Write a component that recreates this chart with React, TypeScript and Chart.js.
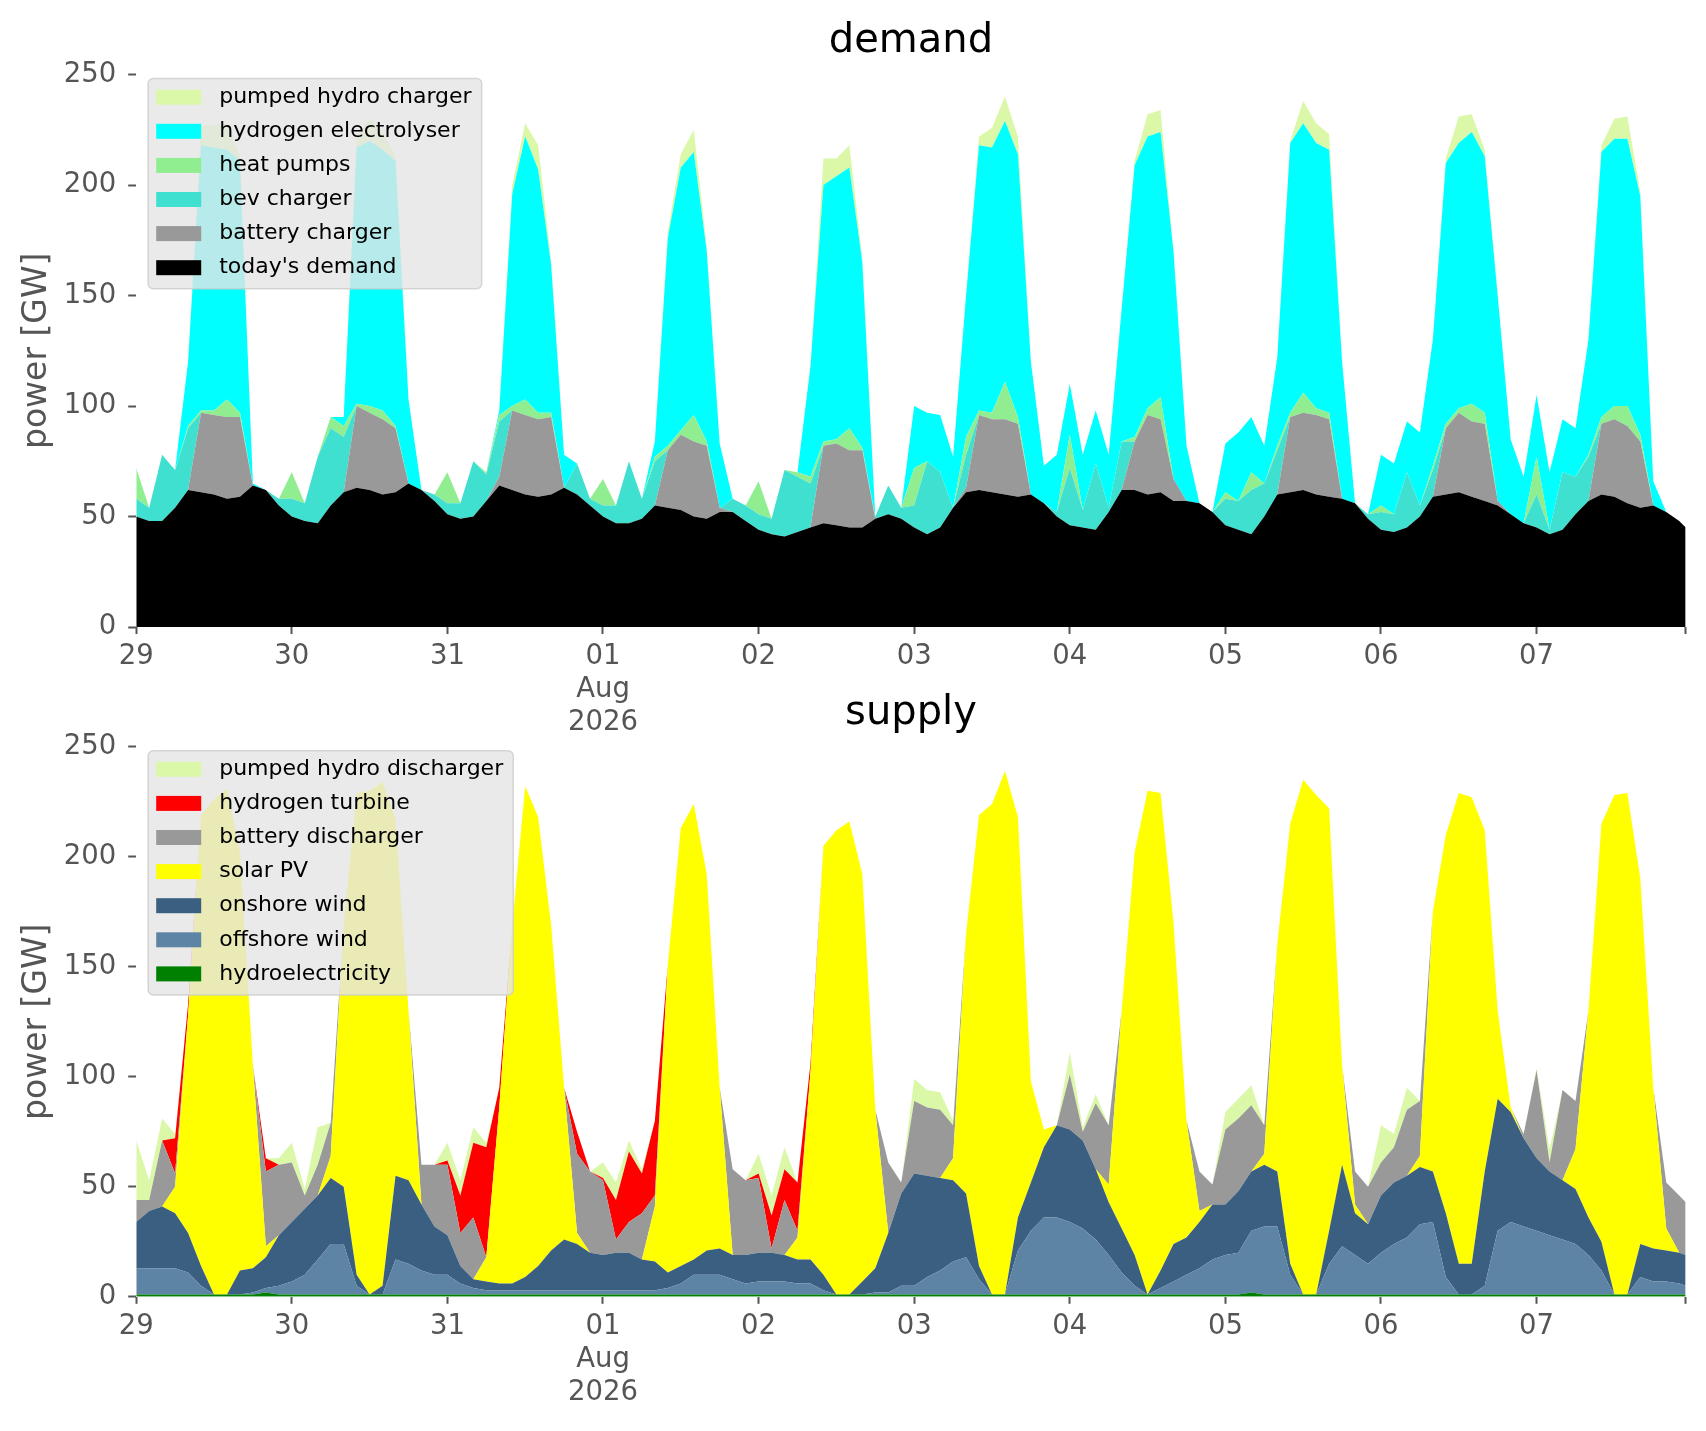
import React, { useEffect, useRef } from "react";
import { Chart, registerables } from "chart.js";

Chart.register(...registerables);

// time grid: 2-hourly readings from 29 Jul 00:00, plus the last hour (07 Aug 23:00)
const HOURS: number[] = Array.from({ length: 120 }, (_, i) => i * 2).concat([239]);
const DAY_TICK_HOURS = [0, 24, 48, 72, 96, 120, 144, 168, 192, 216, 239];
const DAY_TICK_LABELS: (string | string[])[] = ["29", "30", "31", ["01", "Aug", "2026"], "02", "03", "04", "05", "06", "07", ""];
const Y_MAX = 250;
const Y_STEP = 50;

// ---------------- demand (GW) ----------------
const TODAYS_DEMAND = [
  50, 48, 48, 54, 62, 61, 60, 58, 59, 64, 62, 55,
  50, 48, 47, 55, 61, 63, 62, 60, 61, 65, 62, 57,
  51, 49, 50, 57, 64, 62, 60, 59, 60, 63, 60, 55,
  50, 47, 47, 49, 55, 54, 53, 50, 49, 52, 52, 48,
  44, 42, 41, 43, 45, 47, 46, 45, 45, 49, 51, 49,
  45, 42, 45, 54, 61, 62, 61, 60, 59, 60, 56, 50,
  46, 45, 44, 52, 62, 62, 60, 61, 57, 57, 56, 52,
  46, 44, 42, 50, 60, 61, 62, 60, 59, 58, 56, 49,
  44, 43, 45, 50, 59, 60, 61, 59, 57, 55, 51, 47,
  45, 42, 44, 51, 57, 60, 59, 56, 54, 55, 52, 48,
  45,
];
const BATTERY_CHARGER = [
  0, 0, 0, 0, 0, 36, 36, 37, 36, 0, 0, 0,
  0, 0, 0, 0, 0, 37, 35, 34, 29, 0, 0, 0,
  0, 0, 0, 0, 4, 36, 36, 35, 35, 0, 0, 0,
  0, 0, 0, 0, 0, 26, 34, 34, 33, 2, 0, 0,
  0, 0, 0, 0, 0, 35, 37, 35, 35, 0, 0, 0,
  0, 0, 0, 0, 2, 34, 33, 34, 33, 0, 0, 0,
  0, 0, 0, 0, 0, 22, 36, 33, 10, 0, 0, 0,
  0, 0, 0, 0, 0, 34, 35, 36, 35, 0, 0, 0,
  0, 0, 0, 0, 0, 30, 36, 34, 35, 2, 0, 0,
  0, 0, 0, 0, 0, 32, 35, 35, 30, 0, 0, 0,
  0,
];
const BEV_CHARGER = [
  8, 6, 30, 17, 28, 0, 0, 0, 0, 0, 0, 3,
  8, 8, 30, 35, 25, 0, 0, 0, 0, 0, 0, 3,
  5, 7, 25, 12, 25, 0, 0, 0, 0, 0, 14, 3,
  5, 8, 28, 9, 20, 0, 0, 0, 0, 0, 6, 7,
  7, 7, 30, 25, 20, 0, 0, 0, 0, 1, 13, 5,
  10, 33, 25, 0, 15, 0, 0, 0, 0, 0, 0, 2,
  26, 8, 30, 2, 22, 0, 0, 0, 0, 0, 0, 0,
  12, 13, 20, 15, 20, 0, 0, 0, 0, 0, 0, 2,
  8, 8, 25, 5, 12, 0, 0, 0, 0, 0, 0, 0,
  15, 2, 26, 17, 20, 0, 0, 0, 0, 0, 0, 0,
  0,
];
const HEAT_PUMPS = [
  14, 0, 0, 0, 1, 1, 2, 8, 2, 0, 0, 0,
  12, 0, 0, 5, 5, 1, 3, 4, 1, 0, 0, 0,
  14, 0, 0, 1, 3, 2, 7, 3, 2, 0, 0, 0,
  12, 0, 0, 0, 2, 2, 2, 12, 2, 0, 0, 0,
  15, 0, 0, 2, 3, 2, 2, 10, 1, 0, 0, 0,
  17, 0, 0, 0, 8, 2, 3, 17, 3, 0, 0, 0,
  15, 0, 0, 0, 0, 2, 3, 10, 0, 0, 0, 0,
  3, 0, 8, 0, 2, 2, 9, 3, 3, 0, 0, 0,
  3, 0, 0, 0, 2, 2, 2, 8, 5, 0, 0, 0,
  17, 0, 0, 0, 1, 3, 6, 9, 3, 0, 0, 0,
  0,
];
const HYDROGEN_ELECTROLYSER = [
  0, 0, 0, 0, 29, 120, 119, 113, 114, 1, 0, 0,
  0, 0, 0, 0, 4, 116, 120, 118, 120, 38, 0, 0,
  0, 0, 0, 0, 2, 96, 119, 110, 67, 15, 0, 0,
  0, 0, 0, 0, 7, 94, 119, 119, 86, 29, 0, 0,
  0, 0, 0, 0, 50, 116, 119, 118, 84, 0, 0, 0,
  28, 22, 26, 23, 64, 120, 120, 118, 119, 60, 17, 26,
  23, 25, 24, 24, 60, 123, 123, 120, 103, 25, 0, 0,
  22, 31, 25, 17, 40, 122, 122, 120, 119, 62, 0, 0,
  23, 23, 23, 33, 57, 118, 120, 123, 116, 93, 34, 21,
  28, 26, 24, 22, 52, 120, 121, 121, 108, 11, 0, 0,
  0,
];
const PUMPED_HYDRO_CHARGER = [
  0, 0, 0, 0, 0, 9, 10, 12, 2, 0, 0, 0,
  0, 0, 0, 0, 0, 5, 10, 8, 2, 0, 0, 0,
  0, 0, 0, 0, 0, 4, 6, 11, 2, 0, 0, 0,
  0, 0, 0, 0, 0, 3, 6, 10, 2, 0, 0, 0,
  0, 0, 0, 0, 0, 12, 8, 10, 2, 0, 0, 0,
  0, 0, 0, 0, 0, 4, 9, 11, 8, 0, 0, 0,
  0, 0, 0, 0, 0, 2, 10, 10, 0, 0, 0, 0,
  0, 0, 0, 0, 0, 1, 10, 9, 7, 0, 0, 0,
  0, 0, 0, 0, 0, 2, 12, 8, 3, 0, 0, 0,
  0, 0, 0, 0, 0, 3, 9, 10, 2, 0, 0, 0,
  0,
];

// ---------------- supply (GW) ----------------
const HYDROELECTRICITY = [
  1, 1, 1, 1, 1, 1, 1, 1, 1, 1, 2, 1,
  1, 1, 1, 1, 1, 1, 1, 1, 1, 1, 1, 1,
  1, 1, 1, 1, 1, 1, 1, 1, 1, 1, 1, 1,
  1, 1, 1, 1, 1, 1, 1, 1, 1, 1, 1, 1,
  1, 1, 1, 1, 1, 1, 1, 1, 1, 1, 1, 1,
  1, 1, 1, 1, 1, 1, 1, 1, 1, 1, 1, 1,
  1, 1, 1, 1, 1, 1, 1, 1, 1, 1, 1, 1,
  1, 1, 2, 1, 1, 1, 1, 1, 1, 1, 1, 1,
  1, 1, 1, 1, 1, 1, 1, 1, 1, 1, 1, 1,
  1, 1, 1, 1, 1, 1, 1, 1, 1, 1, 1, 1,
  1,
];
const OFFSHORE_WIND = [
  12, 12, 12, 12, 10, 4, 0, 0, 0, 1, 2, 4,
  6, 9, 16, 23, 23, 4, 0, 0, 16, 14, 11, 9,
  9, 5, 3, 2, 2, 2, 2, 2, 2, 2, 2, 2,
  2, 2, 2, 2, 2, 3, 5, 9, 9, 9, 7, 5,
  6, 6, 6, 5, 5, 2, 0, 0, 0, 1, 1, 4,
  4, 8, 11, 15, 17, 7, 0, 0, 20, 29, 35, 35,
  33, 30, 25, 18, 10, 4, 0, 3, 6, 9, 12, 16,
  18, 19, 28, 31, 31, 9, 0, 0, 14, 22, 18, 14,
  19, 23, 26, 32, 33, 8, 0, 0, 4, 29, 33, 31,
  29, 27, 25, 23, 18, 11, 0, 0, 8, 6, 6, 5,
  4,
];
const ONSHORE_WIND = [
  21, 26, 28, 25, 18, 9, 0, 0, 11, 11, 14, 23,
  27, 30, 29, 30, 26, 5, 0, 4, 38, 38, 30, 22,
  18, 8, 4, 4, 3, 3, 6, 11, 18, 23, 21, 17,
  16, 17, 17, 14, 13, 7, 8, 7, 11, 12, 11, 13,
  13, 13, 12, 11, 11, 7, 0, 0, 6, 11, 27, 42,
  51, 46, 42, 37, 29, 6, 0, 0, 15, 22, 32, 42,
  42, 40, 32, 24, 20, 14, 0, 8, 17, 17, 21, 25,
  23, 28, 27, 28, 25, 5, 0, 0, 15, 37, 19, 18,
  26, 28, 28, 26, 23, 29, 14, 14, 52, 60, 50, 40,
  33, 29, 27, 25, 17, 13, 0, 0, 15, 15, 14, 14,
  14,
];
const SOLAR_PV = [
  0, 0, 0, 12, 99, 205, 225, 230, 190, 92, 5, 0,
  0, 0, 0, 10, 119, 219, 229, 229, 162, 77, 0, 0,
  0, 0, 0, 11, 80, 163, 223, 204, 148, 69, 5, 0,
  0, 0, 0, 0, 25, 140, 199, 207, 171, 73, 0, 0,
  0, 0, 0, 10, 85, 195, 211, 215, 185, 72, 0, 0,
  0, 0, 0, 10, 118, 205, 223, 238, 182, 46, 8, 0,
  0, 0, 0, 8, 99, 183, 229, 217, 146, 53, 5, 0,
  0, 0, 0, 5, 103, 200, 234, 227, 192, 45, 4, 0,
  0, 0, 0, 5, 118, 172, 214, 212, 155, 40, 2, 0,
  0, 0, 0, 18, 94, 190, 227, 228, 166, 73, 10, 0,
  0,
];
const BATTERY_DISCHARGER = [
  10, 5, 30, 6, 0, 0, 0, 0, 0, 0, 34, 32,
  27, 6, 14, 15, 0, 0, 0, 0, 0, 0, 18, 28,
  32, 15, 28, 0, 0, 0, 0, 0, 0, 0, 36, 37,
  34, 6, 14, 21, 5, 0, 0, 0, 0, 0, 39, 34,
  34, 2, 25, 3, 0, 0, 0, 0, 0, 0, 32, 5,
  33, 31, 31, 15, 0, 0, 0, 0, 0, 0, 0, 0,
  25, 4, 30, 27, 0, 0, 0, 0, 0, 0, 18, 9,
  34, 33, 30, 13, 0, 0, 0, 0, 0, 0, 15, 17,
  15, 16, 30, 25, 0, 0, 0, 0, 0, 0, 0, 2,
  40, 4, 41, 22, 0, 0, 0, 0, 0, 0, 21, 26,
  24,
];
const HYDROGEN_TURBINE = [
  0, 0, 0, 16, 5, 0, 0, 0, 0, 0, 6, 0,
  0, 0, 0, 0, 0, 0, 0, 0, 0, 0, 0, 0,
  2, 17, 34, 50, 9, 0, 0, 0, 0, 0, 10, 0,
  1, 18, 32, 18, 34, 0, 0, 0, 0, 0, 0, 0,
  2, 15, 14, 22, 4, 0, 0, 0, 0, 0, 0, 0,
  0, 0, 0, 0, 0, 0, 0, 0, 0, 0, 0, 0,
  0, 0, 0, 0, 0, 0, 0, 0, 0, 0, 0, 0,
  0, 0, 0, 0, 0, 0, 0, 0, 0, 0, 0, 0,
  0, 0, 0, 0, 0, 0, 0, 0, 0, 0, 0, 0,
  0, 0, 0, 0, 0, 0, 0, 0, 0, 0, 0, 0,
  0,
];
const PUMPED_HYDRO_DISCHARGER = [
  27, 9, 10, 2, 0, 0, 0, 0, 0, 0, 0, 3,
  9, 3, 17, 0, 0, 0, 0, 0, 0, 0, 0, 0,
  8, 7, 7, 2, 0, 0, 0, 0, 0, 0, 0, 0,
  7, 8, 5, 2, 0, 0, 0, 0, 0, 0, 0, 0,
  9, 9, 10, 0, 0, 0, 0, 0, 0, 0, 0, 0,
  10, 8, 8, 2, 0, 0, 0, 0, 0, 0, 0, 0,
  10, 2, 4, 0, 0, 0, 0, 0, 0, 0, 0, 0,
  8, 9, 9, 0, 0, 0, 0, 0, 0, 0, 0, 0,
  17, 6, 10, 0, 0, 0, 0, 0, 0, 0, 0, 0,
  1, 6, 0, 0, 0, 0, 0, 0, 0, 0, 0, 0,
  0,
];

type Series = { label: string; values: number[]; color: string };

// stack order: bottom first
const DEMAND_SERIES: Series[] = [
  { label: "today's demand", values: TODAYS_DEMAND, color: "#000000" },
  { label: "battery charger", values: BATTERY_CHARGER, color: "#999999" },
  { label: "bev charger", values: BEV_CHARGER, color: "#40e0d0" },
  { label: "heat pumps", values: HEAT_PUMPS, color: "#90ee90" },
  { label: "hydrogen electrolyser", values: HYDROGEN_ELECTROLYSER, color: "#00ffff" },
  { label: "pumped hydro charger", values: PUMPED_HYDRO_CHARGER, color: "#dbf7a8" },
];
const SUPPLY_SERIES: Series[] = [
  { label: "hydroelectricity", values: HYDROELECTRICITY, color: "#008000" },
  { label: "offshore wind", values: OFFSHORE_WIND, color: "#5d83a5" },
  { label: "onshore wind", values: ONSHORE_WIND, color: "#3b5f80" },
  { label: "solar PV", values: SOLAR_PV, color: "#ffff00" },
  { label: "battery discharger", values: BATTERY_DISCHARGER, color: "#999999" },
  { label: "hydrogen turbine", values: HYDROGEN_TURBINE, color: "#ff0000" },
  { label: "pumped hydro discharger", values: PUMPED_HYDRO_DISCHARGER, color: "#dbf7a8" },
];

const FONT = "'DejaVu Sans', 'Noto Sans', sans-serif";
const W = 1706;
const PLOT_LEFT = 136.2;
const PLOT_RIGHT = 1685.7;

function overlayPlugin(title: string) {
  return {
    id: "overlay_" + title,
    afterDraw(chart: any) {
      const { ctx, chartArea } = chart;
      ctx.save();
      // title
      ctx.font = `40px ${FONT}`;
      ctx.fillStyle = "#000";
      ctx.textAlign = "center";
      ctx.textBaseline = "alphabetic";
      ctx.fillText(title, (chartArea.left + chartArea.right) / 2, chartArea.top - 23);
      // legend (top of stack first)
      const items = chart.data.datasets
        .map((d: any) => ({ label: d.label, color: d.backgroundColor }))
        .reverse();
      ctx.font = `22px ${FONT}`;
      const maxW = Math.max(...items.map((it: any) => ctx.measureText(it.label).width));
      const bx = chartArea.left + 12;
      const by = chartArea.top + 4;
      const rowH = 34.1;
      const first = 18.6;
      const bw = 71 + maxW + 10;
      const bh = first + rowH * (items.length - 1) + 21;
      const r = 5;
      ctx.beginPath();
      ctx.moveTo(bx + r, by);
      ctx.lineTo(bx + bw - r, by);
      ctx.arcTo(bx + bw, by, bx + bw, by + r, r);
      ctx.lineTo(bx + bw, by + bh - r);
      ctx.arcTo(bx + bw, by + bh, bx + bw - r, by + bh, r);
      ctx.lineTo(bx + r, by + bh);
      ctx.arcTo(bx, by + bh, bx, by + bh - r, r);
      ctx.lineTo(bx, by + r);
      ctx.arcTo(bx, by, bx + r, by, r);
      ctx.closePath();
      ctx.fillStyle = "rgba(229,229,229,0.8)";
      ctx.fill();
      ctx.strokeStyle = "rgba(204,204,204,0.8)";
      ctx.lineWidth = 1.5;
      ctx.stroke();
      items.forEach((it: any, i: number) => {
        const cy = by + first + i * rowH;
        ctx.fillStyle = it.color;
        ctx.fillRect(bx + 8, cy - 7.5, 45, 15);
        ctx.fillStyle = "#000";
        ctx.textAlign = "left";
        ctx.textBaseline = "middle";
        ctx.fillText(it.label, bx + 71, cy);
      });
      ctx.restore();
    },
  };
}

function buildConfig(series: Series[], title: string, canvasH: number, plotTop: number, plotBottom: number): any {
  const datasets = series.map((s, i) => ({
    label: s.label,
    data: s.values.map((v, j) => ({ x: HOURS[j], y: v })),
    backgroundColor: s.color,
    borderColor: "rgba(0,0,0,0)",
    borderWidth: 0,
    pointRadius: 0,
    pointHoverRadius: 0,
    tension: 0,
    fill: i === 0 ? "origin" : "-1",
  }));
  return {
    type: "line",
    data: { datasets },
    plugins: [overlayPlugin(title)],
    options: {
      animation: false,
      responsive: false,
      devicePixelRatio: 1,
      events: [],
      layout: { padding: { top: plotTop, right: W - PLOT_RIGHT, bottom: 0, left: 0 } },
      plugins: { legend: { display: false }, tooltip: { enabled: false }, title: { display: false } },
      scales: {
        x: {
          type: "linear",
          min: 0,
          max: 239,
          border: { display: false },
          grid: { display: true, drawOnChartArea: false, drawTicks: true, tickLength: 7, tickColor: "#555555", tickWidth: 2 },
          afterBuildTicks: (scale: any) => {
            scale.ticks = DAY_TICK_HOURS.map((v) => ({ value: v }));
          },
          afterFit: (scale: any) => {
            scale.height = canvasH - plotBottom;
          },
          ticks: {
            autoSkip: false,
            maxRotation: 0,
            minRotation: 0,
            padding: 6.5,
            color: "#555555",
            font: { family: FONT, size: 27.5, lineHeight: 1.2 },
            callback: (value: number) => {
              const k = DAY_TICK_HOURS.indexOf(value);
              return k >= 0 ? DAY_TICK_LABELS[k] : "";
            },
          },
        },
        y: {
          stacked: true,
          min: 0,
          max: Y_MAX,
          border: { display: false },
          grid: { display: true, drawOnChartArea: false, drawTicks: true, tickLength: 8, tickColor: "#555555", tickWidth: 2 },
          afterFit: (scale: any) => {
            scale.width = PLOT_LEFT;
          },
          ticks: {
            stepSize: Y_STEP,
            padding: 12,
            color: "#555555",
            font: { family: FONT, size: 27.5 },
          },
          title: {
            display: true,
            text: "power [GW]",
            color: "#555555",
            font: { family: FONT, size: 33, lineHeight: 1.2 },
            padding: { top: 18, bottom: 0 },
          },
        },
      },
    },
  };
}

function AreaChart(props: { series: Series[]; title: string; top: number; height: number; plotTop: number; plotBottom: number }) {
  const ref = useRef<HTMLCanvasElement | null>(null);
  useEffect(() => {
    if (!ref.current) return;
    const chart = new Chart(ref.current, buildConfig(props.series, props.title, props.height, props.plotTop, props.plotBottom));
    return () => chart.destroy();
  }, []);
  return (
    <canvas
      ref={ref}
      width={W}
      height={props.height}
      style={{ position: "absolute", left: 0, top: props.top, width: W, height: props.height }}
    />
  );
}

export default function App() {
  return (
    <div style={{ position: "absolute", left: 0, top: 0, width: W, height: 1431, background: "#ffffff" }}>
      <AreaChart series={DEMAND_SERIES} title="demand" top={0} height={745} plotTop={74.6} plotBottom={627} />
      <AreaChart series={SUPPLY_SERIES} title="supply" top={660} height={771} plotTop={86.7} plotBottom={636.8} />
    </div>
  );
}
